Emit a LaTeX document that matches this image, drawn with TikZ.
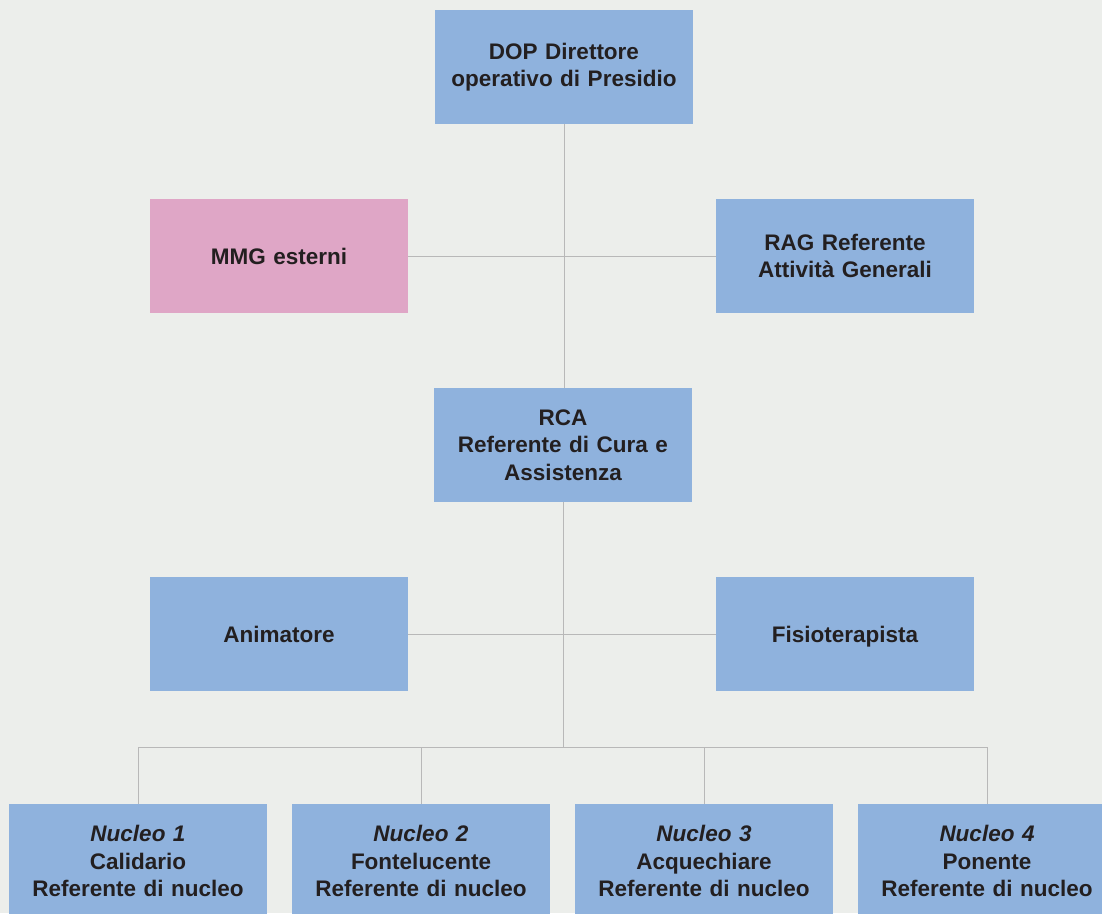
\documentclass[tikz,border=0pt]{standalone}
\usepackage{fontspec}
\setmainfont{Liberation Sans}
\usepackage{tikz}
\usetikzlibrary{positioning}

\definecolor{bgcol}{HTML}{ECEEEB}
\definecolor{boxblue}{HTML}{8FB2DD}
\definecolor{boxpink}{HTML}{DFA6C6}
\definecolor{linegray}{HTML}{B8B8B8}
\definecolor{txt}{HTML}{231F20}

\tikzset{
  box/.style={fill=boxblue,minimum width=258pt,minimum height=114pt,inner sep=0pt,
    text width=250pt,align=center,text=txt,font=\fontsize{22.5}{27.5}\selectfont\bfseries},
  pinkbox/.style={box,fill=boxpink},
  oneline/.style={text depth=0pt},
  link/.style={draw=linegray,line width=1pt}
}

\begin{document}
\begin{tikzpicture}[x=1pt,y=-1pt]
\fill[bgcol] (0,0) rectangle (1102,913);
\useasboundingbox (0,0) rectangle (1102,913);
% top part
\node[box] (dop) at (564,67) {DOP Direttore\\operativo di Presidio};
\node[pinkbox,oneline] (mmg) at (279,256) {MMG esterni};
\node[box] (rag) at (845,256) {RAG Referente\\Attività Generali};
\node[box] (rca) at (563,445) {RCA\\Referente di Cura e\\Assistenza};
% staff
\node[box,oneline] (anim) at (279,634) {Animatore};
\node[box,oneline] (fisio) at (845,634) {Fisioterapista};
% nuclei
\node[box] (n1) at (138,861) {\textit{Nucleo 1}\\Calidario\\Referente di nucleo};
\node[box] (n2) at (421,861) {\textit{Nucleo 2}\\Fontelucente\\Referente di nucleo};
\node[box] (n3) at (704,861) {\textit{Nucleo 3}\\Acquechiare\\Referente di nucleo};
\node[box] (n4) at (987,861) {\textit{Nucleo 4}\\Ponente\\Referente di nucleo};
\coordinate (bus) at (563,747);
% lines
\draw[link] (dop.south) -- (dop.south |- rca.north);
\draw[link] (mmg.east) -- (rag.west);
\draw[link] (anim.east) -- (fisio.west);
\draw[link] (rca.south) -- (bus);
\foreach \i in {1,...,4}
  \draw[link] (n\i.north) |- (bus);
\end{tikzpicture}
\end{document}
